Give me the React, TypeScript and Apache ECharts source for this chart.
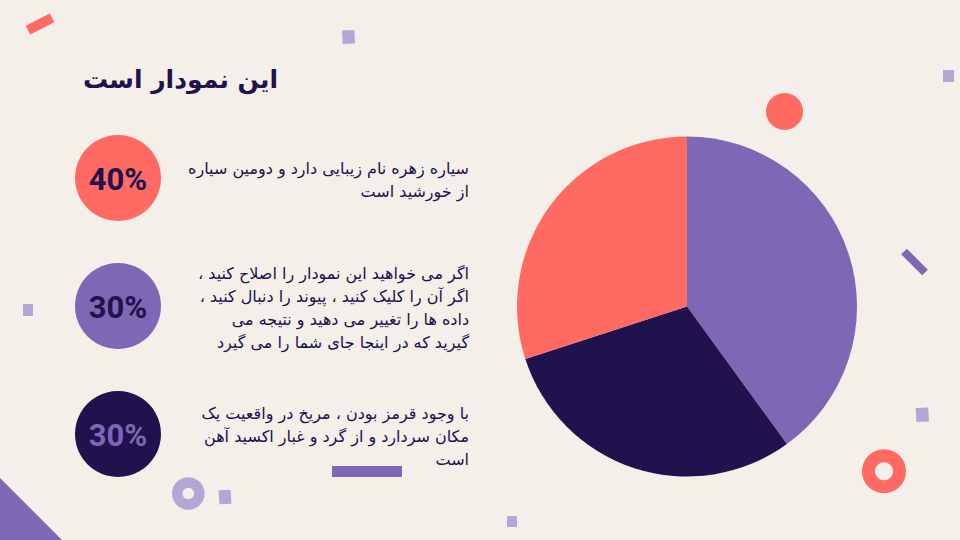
import React, { useEffect, useRef } from "react";
import * as echarts from "echarts";

const sliceNames = ["الف", "ب", "ج"];
const sliceValues = [40, 30, 30];
const sliceColors = ["#7E67B4", "#20124D", "#FF6B63"];

const titleText = "این نمودار است";

// Legend blocks (order top to bottom)
const blockValues = [40, 30, 30];
const blockCircleColors = ["#FF6B63", "#7E67B4", "#20124D"];
const blockLabelColors = ["#20124D", "#20124D", "#7E67B4"];
const blockLines = [
  ["سیاره زهره نام زیبایی دارد و دومین سیاره", "از خورشید است"],
  [
    "اگر می خواهید این نمودار را اصلاح کنید ،",
    "اگر آن را کلیک کنید ، پیوند را دنبال کنید ،",
    "داده ها را تغییر می دهید و نتیجه می",
    "گیرید که در اینجا جای شما را می گیرد",
  ],
  [
    "با وجود قرمز بودن ، مریخ در واقعیت یک",
    "مکان سردارد و از گرد و غبار اکسید آهن",
    "است",
  ],
];

const BG = "#F4EFE9";
const DARK = "#20124D";
const LAV = "#B4A7D6";
const CORAL = "#FF6B63";
const PURPLE = "#7E67B4";
const RLM = "\u200F";

export default function App() {
  const ref = useRef<HTMLDivElement>(null);
  useEffect(() => {
    if (!ref.current) return;
    const chart = echarts.init(ref.current, null, { renderer: "svg" });
    const circleX = 118;
    const circleYs = [178, 306, 434];
    const lineH = 23;
    const graphics: any[] = [];

    // decorations
    graphics.push(
      { type: "polygon", shape: { points: [[0, 478], [62, 540], [0, 540]] }, style: { fill: PURPLE } },
      { type: "rect", x: 40, y: 24, rotation: 0.47, shape: { x: -13.5, y: -5, width: 27, height: 10 }, style: { fill: CORAL } },
      { type: "rect", x: 348.5, y: 37, rotation: 0.05, shape: { x: -6.2, y: -6.8, width: 12.4, height: 13.6 }, style: { fill: LAV } },
      { type: "rect", x: 943, y: 70, shape: { x: 0, y: 0, width: 11, height: 12 }, style: { fill: LAV } },
      { type: "circle", shape: { cx: 784.5, cy: 111.5, r: 18.5 }, style: { fill: CORAL } },
      { type: "line", shape: { x1: 904, y1: 251.5, x2: 925, y2: 272.5 }, style: { stroke: PURPLE, lineWidth: 8 } },
      { type: "rect", x: 922.3, y: 414.7, rotation: 0.05, shape: { x: -6.3, y: -7, width: 12.6, height: 14 }, style: { fill: LAV } },
      { type: "ring", shape: { cx: 884, cy: 471.3, r: 22, r0: 9 }, style: { fill: CORAL } },
      { type: "rect", x: 332, y: 466, shape: { x: 0, y: 0, width: 70, height: 11 }, style: { fill: PURPLE } },
      { type: "ring", shape: { cx: 188.3, cy: 493.5, r: 16.3, r0: 5.8 }, style: { fill: LAV } },
      { type: "rect", x: 225, y: 497, rotation: 0.06, shape: { x: -6, y: -7, width: 12, height: 14 }, style: { fill: LAV } },
      { type: "rect", x: 23, y: 304, shape: { x: 0, y: 0, width: 10, height: 12 }, style: { fill: LAV } },
      { type: "rect", x: 507, y: 516, shape: { x: 0, y: 0, width: 10, height: 11 }, style: { fill: LAV } }
    );

    // title
    graphics.push({
      type: "text",
      x: 278,
      y: 79,
      style: {
        text: RLM + titleText + RLM,
        fill: DARK,
        font: "bold 25px 'DejaVu Sans'",
        align: "right",
        verticalAlign: "middle",
      },
    });

    blockValues.forEach((v, i) => {
      const cy = circleYs[i];
      graphics.push({ type: "circle", shape: { cx: circleX, cy, r: 43 }, style: { fill: blockCircleColors[i] } });
      graphics.push({
        type: "text",
        x: circleX,
        y: cy + 1,
        style: {
          text: v + "%",
          fill: blockLabelColors[i],
          font: "bold 31px Roboto",
          align: "center",
          verticalAlign: "middle",
        },
      });
      const lines = blockLines[i];
      lines.forEach((ln, j) => {
        graphics.push({
          type: "text",
          x: 469,
          y: cy + 2 + (j - (lines.length - 1) / 2) * lineH,
          style: {
            text: RLM + ln + RLM,
            fill: DARK,
            font: "16px 'DejaVu Sans'",
            align: "right",
            verticalAlign: "middle",
          },
        });
      });
    });

    chart.setOption({
      animation: false,
      backgroundColor: BG,
      series: [
        {
          type: "pie",
          center: [687, 306.5],
          radius: 170,
          startAngle: 90,
          clockwise: true,
          label: { show: false },
          labelLine: { show: false },
          emphasis: { disabled: true },
          data: sliceValues.map((v, i) => ({
            name: sliceNames[i],
            value: v,
            itemStyle: { color: sliceColors[i] },
          })),
        },
      ],
      graphic: { elements: graphics },
    });
    return () => chart.dispose();
  }, []);
  return (
    <div
      ref={ref}
      style={{ position: "fixed", left: 0, top: 0, width: 960, height: 540 }}
    />
  );
}
